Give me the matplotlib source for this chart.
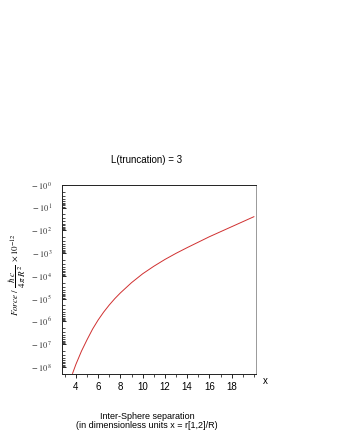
import matplotlib
matplotlib.use("Agg")
import matplotlib.pyplot as plt
from matplotlib.ticker import FixedLocator, FuncFormatter, LogLocator, NullFormatter
import numpy as np

# curve: separation x and log10 of |force| (axis runs 10^0 at top to 10^8 at bottom)
sep_x = [3.7, 4.0, 4.5, 5.0, 5.5, 6.0, 6.5, 7.0, 7.5, 8.0, 9.0, 10.0,
         11.0, 12.0, 13.0, 14.0, 15.0, 16.0, 17.0, 18.0, 19.0, 20.0]
force_exp = [8.29, 7.89, 7.31, 6.81, 6.34, 5.94, 5.59, 5.28, 5.00, 4.75, 4.30, 3.91,
             3.58, 3.28, 3.01, 2.76, 2.52, 2.28, 2.06, 1.84, 1.62, 1.40]

x_ticks = [4, 6, 8, 10, 12, 14, 16, 18]
y_decades = [0, 1, 2, 3, 4, 5, 6, 7, 8]

plt.rcParams["font.family"] = ["Liberation Sans", "DejaVu Sans"]
plt.rcParams["mathtext.fontset"] = "stix"

fig = plt.figure(figsize=(3.37, 4.36), dpi=100)
ax = fig.add_axes([0.184, 0.142, 0.576, 0.434])

force = 10.0 ** np.array(force_exp)
ax.plot(sep_x, force, color="#d03030", lw=0.7)

ax.set_yscale("log")
ax.set_ylim(10 ** 8.32, 1.0)
ax.set_xlim(2.75, 20.2)

ax.yaxis.set_major_locator(FixedLocator([10.0 ** k for k in y_decades]))
ax.yaxis.set_major_formatter(FuncFormatter(lambda v, p: r"$-\ 10^{%d}$" % round(np.log10(v))))
ax.yaxis.set_minor_locator(LogLocator(base=10, subs=np.arange(2, 10)))
ax.yaxis.set_minor_formatter(NullFormatter())

ax.xaxis.set_major_locator(FixedLocator(x_ticks))
ax.xaxis.set_minor_locator(FixedLocator(np.arange(3, 21)))
ax.set_xticklabels([str(t) for t in x_ticks])

ax.tick_params(axis="y", which="major", direction="in", length=3, width=0.6,
               labelsize=6, pad=7, labelcolor="#333333")
ax.tick_params(axis="y", which="minor", direction="in", length=1.8, width=0.5)
ax.tick_params(axis="x", which="major", direction="out", length=3, width=0.6,
               labelsize=7, pad=3)
ax.tick_params(axis="x", which="minor", direction="out", length=1.8, width=0.5)

for s in ["left", "bottom", "top"]:
    ax.spines[s].set_linewidth(0.7)
    ax.spines[s].set_color("#222222")
ax.spines["right"].set_linewidth(0.7)
ax.spines["right"].set_color("#999999")

fig.text(147 / 337, 1 - 160 / 436, "L(truncation) = 3", ha="center", va="center", fontsize=7)
fig.text(265 / 337, 1 - 381 / 436, "x", ha="center", va="center", fontsize=7)
fig.text(147 / 337, 1 - 421 / 436, "Inter-Sphere separation\n(in dimensionless units x = r[1,2]/R)",
         ha="center", va="center", fontsize=6.5, linespacing=1.0)
fig.text(17 / 337, 1 - 275 / 436,
         r"$\mathit{Force}\ /\ \dfrac{\hbar\ c}{4\,\pi\,R^2}\ \times 10^{-12}$",
         rotation=90, ha="center", va="center", fontsize=6.5)

fig.savefig("out.png", dpi=100)
